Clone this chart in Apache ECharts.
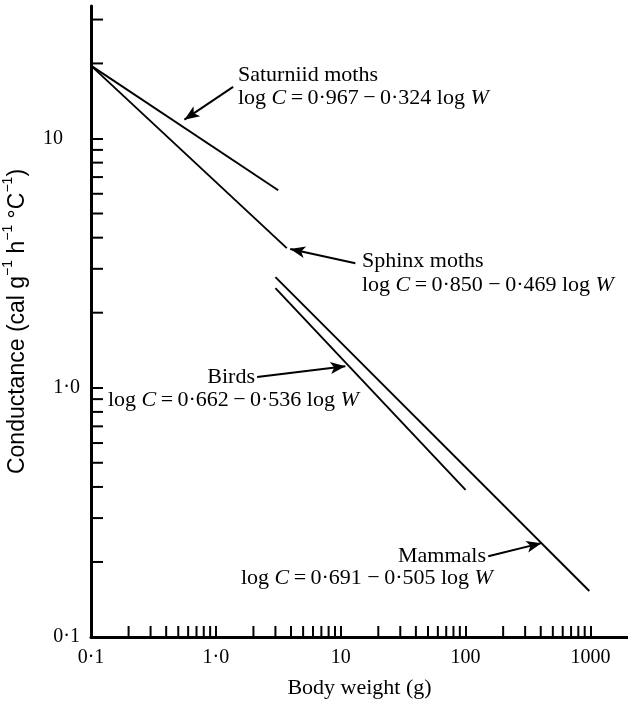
<!DOCTYPE html>
<html>
<head>
<meta charset="utf-8">
<script src="https://cdn.jsdelivr.net/npm/echarts@6/dist/echarts.min.js"></script>
<style>
  html, body { margin: 0; padding: 0; background: #fff; }
  #chart { width: 628px; height: 705px; }
</style>
</head>
<body>
<div id="chart"></div>
<script>
// fitted lines: [body weight (g), conductance]
const saturniid = [[0.1, 19.6], [3.16, 6.2]];
const sphinx = [[0.1, 19.6], [3.7, 3.63]];
const birds = [[3, 2.51], [100, 0.389]];
const mammals = [[3, 2.78], [980, 0.153]];

// tick values and labels
const xMajor = [0.1, 1, 10, 100, 1000];
const xTickLabels = ['0·1', '1·0', '10', '100', '1000'];
const yMajor = [0.1, 1, 10];
const yTickLabels = ['0·1', '1·0', '10'];
const xMinor = [
  0.2, 0.3, 0.4, 0.5, 0.6, 0.7, 0.8, 0.9,
  2, 3, 4, 5, 6, 7, 8, 9,
  20, 30, 40, 50, 60, 70, 80, 90,
  200, 300, 400, 500, 600, 700, 800, 900
];
const yMinor = [0.2, 0.3, 0.4, 0.5, 0.6, 0.7, 0.8, 0.9, 2, 3, 4, 5, 6, 7, 8, 9, 20, 30];

// annotation arrows: [tail, head] in data coords
const arrows = [
  [[1.375, 16.1], [0.56, 11.9]],   // Saturniid moths
  [[13.1, 3.16], [3.94, 3.6]],     // Sphinx moths
  [[2.14, 1.104], [10.9, 1.22]],   // Birds
  [[152, 0.211], [405, 0.238]]     // Mammals
];

const SERIF = '"Liberation Serif", "Times New Roman", serif';
const SANS = '"Liberation Sans", Arial, sans-serif';
const TS = '\u2009'; // thin space, the old typesetting is loose round = and −

const chartDom = document.getElementById('chart');
const chart = echarts.init(chartDom);

const fmtLog = (labels, majors) => (v) => {
  const i = majors.findIndex((m) => Math.abs(Math.log10(m) - Math.log10(v)) < 1e-6);
  return i < 0 ? '' : labels[i];
};

const lineSeries = (name, data) => ({
  type: 'line',
  name: name,
  data: data,
  symbol: 'none',
  silent: true,
  lineStyle: { color: '#000', width: 1.9 },
});

// minor ticks (2..9 per decade) drawn through the log axes
const tickSeries = (data, horizontal) => ({
  type: 'custom',
  silent: true,
  clip: false,
  data: data,
  renderItem: (params, api) => {
    const p = api.coord([api.value(0), api.value(1)]);
    return {
      type: 'line',
      shape: horizontal
        ? { x1: p[0], y1: p[1], x2: p[0] + 12, y2: p[1] }
        : { x1: p[0], y1: p[1], x2: p[0], y2: p[1] - 11 },
      style: { stroke: '#000', lineWidth: 2 },
    };
  },
});

const formula = (a, b, gap) =>
  '{n|log }{i|C}{n|' + TS + '=' + TS + a + (gap || TS) + '−' + TS + b + ' log }{i|W}';
const annoRich = {
  n: { font: '22px ' + SERIF, fill: '#000' },
  i: { font: 'italic 22px ' + SERIF, fill: '#000' },
};
const annoText = (x, y, text, align) => ({
  type: 'text',
  silent: true,
  style: {
    x: x, y: y, text: text, rich: annoRich,
    font: '22px ' + SERIF, fill: '#000',
    align: align || 'left', verticalAlign: 'middle',
  },
});

chart.setOption({
  animation: false,
  backgroundColor: '#fff',
  grid: { left: 91, right: 0, top: 6, bottom: 68, containLabel: false, outerBoundsMode: 'none' },
  xAxis: {
    type: 'log',
    logBase: 10,
    min: 0.1,
    max: 2000,
    name: 'Body weight (g)',
    nameLocation: 'middle',
    nameGap: 40,
    nameTextStyle: { fontFamily: SERIF, fontSize: 22, color: '#000' },
    axisLine: { lineStyle: { color: '#000', width: 3 } },
    axisTick: { show: true, inside: true, length: 11, lineStyle: { color: '#000', width: 2 } },
    axisLabel: {
      formatter: fmtLog(xTickLabels, xMajor),
      showMaxLabel: false,
      margin: 11,
      fontFamily: SERIF, fontSize: 20, color: '#000',
    },
    splitLine: { show: false },
  },
  yAxis: {
    type: 'log',
    logBase: 10,
    min: 0.1,
    max: 34,
    name: '{a|Conductance (cal g}{s|−1}{a| h}{s|−1}{a| °C}{s|−1}{a|)}',
    nameLocation: 'middle',
    nameGap: 62,
    nameTextStyle: {
      color: '#000',
      rich: {
        a: { fontFamily: SANS, fontSize: 23, color: '#000', lineHeight: 28, verticalAlign: 'bottom' },
        s: { fontFamily: SANS, fontSize: 14, color: '#000', lineHeight: 14, verticalAlign: 'top' },
      },
    },
    axisLine: { lineStyle: { color: '#000', width: 3 } },
    axisTick: { show: true, inside: true, length: 12, lineStyle: { color: '#000', width: 2 } },
    axisLabel: {
      formatter: (v) => {
        const s = fmtLog(yTickLabels, yMajor)(v);
        return s === '10' ? '{w|10}' : s;
      },
      showMaxLabel: false,
      margin: 11,
      fontFamily: SERIF, fontSize: 20, color: '#000',
      rich: { w: { fontFamily: SERIF, fontSize: 20, color: '#000', padding: [0, 17, 0, 0] } },
    },
    splitLine: { show: false },
  },
  series: [
    lineSeries('Saturniid moths', saturniid),
    lineSeries('Sphinx moths', sphinx),
    lineSeries('Birds', birds),
    Object.assign(lineSeries('Mammals', mammals), {
      markLine: {
        silent: true,
        symbol: ['none', 'arrow'],
        symbolSize: [9, 15],
        label: { show: false },
        lineStyle: { color: '#000', width: 2, type: 'solid' },
        data: arrows.map((a) => [{ coord: a[0] }, { coord: a[1] }]),
      },
    }),
    tickSeries(xMinor.map((v) => [v, 0.1]), false),
    tickSeries(yMinor.map((v) => [0.1, v]), true),
  ],
  graphic: [
    annoText(238, 75, 'Saturniid moths'),
    annoText(238, 98, formula('0·967', '0·324', '')),
    annoText(362, 261, 'Sphinx moths'),
    annoText(362, 285, formula('0·850', '0·469', ' ')),
    annoText(255, 377, 'Birds', 'right'),
    annoText(108, 400, formula('0·662', '0·536', '')),
    annoText(486, 556, 'Mammals', 'right'),
    annoText(241, 578, formula('0·691', '0·505', ' ')),
  ],
});
</script>
</body>
</html>
